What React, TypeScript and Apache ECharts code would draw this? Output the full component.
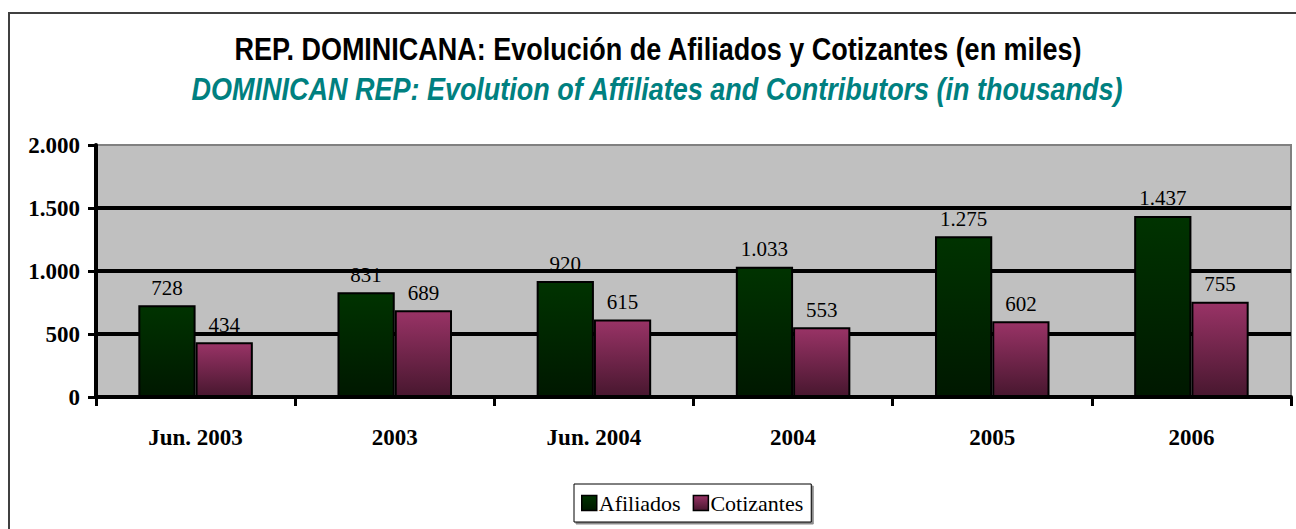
import React, { useEffect, useRef } from "react";
import * as echarts from "echarts";

const titleLine1 = "REP. DOMINICANA: Evolución de Afiliados y Cotizantes (en miles)";
const titleLine2 = "DOMINICAN REP: Evolution of Affiliates and Contributors (in thousands)";
const categories = ["Jun. 2003", "2003", "Jun. 2004", "2004", "2005", "2006"];
const afiliados = [728, 831, 920, 1033, 1275, 1437];
const cotizantes = [434, 689, 615, 553, 602, 755];
const seriesNames = ["Afiliados", "Cotizantes"];
const yMin = 0;
const yMax = 2000;
const yStep = 500;

const fmt = (v: number) => String(v).replace(/\B(?=(\d{3})+(?!\d))/g, ".");

const SERIF = "'Liberation Serif', 'Times New Roman', serif";
const SANS = "'Liberation Sans', Arial, sans-serif";

export default function App() {
  const ref = useRef<HTMLDivElement>(null);
  useEffect(() => {
    if (!ref.current) return;
    const chart = echarts.init(ref.current, null, { renderer: "svg" });
    const greenGrad = new echarts.graphic.LinearGradient(0, 0, 0, 1, [
      { offset: 0, color: "#003300" },
      { offset: 1, color: "#001800" },
    ]);
    const pinkGrad = new echarts.graphic.LinearGradient(0, 0, 0, 1, [
      { offset: 0, color: "#993366" },
      { offset: 1, color: "#48172f" },
    ]);
    const labelStyle = {
      show: true,
      position: "top",
      distance: 7,
      fontFamily: SERIF,
      fontSize: 21,
      color: "#000",
      formatter: (p: any) => fmt(p.value),
    };
    chart.setOption({
      animation: false,
      backgroundColor: "#fff",
      graphic: [
        {
          type: "rect",
          shape: { x: 9, y: 13, width: 1400, height: 700 },
          style: { fill: "none", stroke: "#404040", lineWidth: 2 },
          silent: true,
        },
        {
          type: "text",
          x: 658,
          y: 49,
          scaleY: 1.14,
          style: {
            text: titleLine1,
            fontFamily: SANS,
            fontWeight: "bold",
            fontSize: 27,
            fill: "#000",
            align: "center",
            verticalAlign: "middle",
          },
        },
        {
          type: "text",
          x: 657,
          y: 89,
          scaleY: 1.14,
          style: {
            text: titleLine2,
            fontFamily: SANS,
            fontWeight: "bold",
            fontStyle: "italic",
            fontSize: 27,
            fill: "#008080",
            align: "center",
            verticalAlign: "middle",
          },
        },
      ],
      grid: {
        left: 96,
        right: 5,
        top: 145,
        bottom: 132,
        show: true,
        backgroundColor: "#C0C0C0",
        borderColor: "#808080",
        borderWidth: 2,
      },
      legend: {
        left: 574,
        top: 484,
        data: seriesNames,
        icon: "rect",
        itemWidth: 15,
        itemHeight: 15,
        itemGap: 12,
        padding: [8, 8, 8, 7],
        borderColor: "#000",
        borderWidth: 1,
        backgroundColor: "#fff",
        shadowColor: "rgba(0,0,0,0.45)",
        shadowOffsetX: 2,
        shadowOffsetY: 2,
        textStyle: { fontFamily: SERIF, fontSize: 22, color: "#000", padding: [0, 0, 0, -3] },
        itemStyle: { borderColor: "#000", borderWidth: 1.5 },
      },
      xAxis: {
        type: "category",
        data: categories,
        boundaryGap: true,
        axisLine: { show: true, lineStyle: { color: "#000", width: 4 } },
        axisTick: { show: true, alignWithLabel: false, length: 9, lineStyle: { color: "#000", width: 3 } },
        axisLabel: {
          fontFamily: SERIF,
          fontWeight: "bold",
          fontSize: 23,
          color: "#000",
          margin: 29,
        },
        splitLine: { show: false },
      },
      yAxis: {
        type: "value",
        min: yMin,
        max: yMax,
        interval: yStep,
        axisLine: { show: true, lineStyle: { color: "#000", width: 4 } },
        axisTick: { show: true, length: 8, lineStyle: { color: "#000", width: 3 } },
        axisLabel: {
          fontFamily: SERIF,
          fontWeight: "bold",
          fontSize: 23,
          color: "#000",
          margin: 16,
          formatter: (v: number) => fmt(v),
        },
        splitLine: { show: true, showMaxLine: false, lineStyle: { color: "#000", width: 4 } },
      },
      series: [
        {
          name: seriesNames[0],
          type: "bar",
          data: afiliados,
          barGap: "0%",
          barCategoryGap: "42.5%",
          itemStyle: { color: greenGrad, borderColor: "#000", borderWidth: 2 },
          label: labelStyle,
        },
        {
          name: seriesNames[1],
          type: "bar",
          data: cotizantes,
          barGap: "0%",
          barCategoryGap: "42.5%",
          itemStyle: { color: pinkGrad, borderColor: "#000", borderWidth: 2 },
          label: labelStyle,
        },
      ],
    });
    return () => chart.dispose();
  }, []);
  return (
    <div
      ref={ref}
      style={{ position: "fixed", left: 0, top: 0, width: 1296, height: 529 }}
    />
  );
}
